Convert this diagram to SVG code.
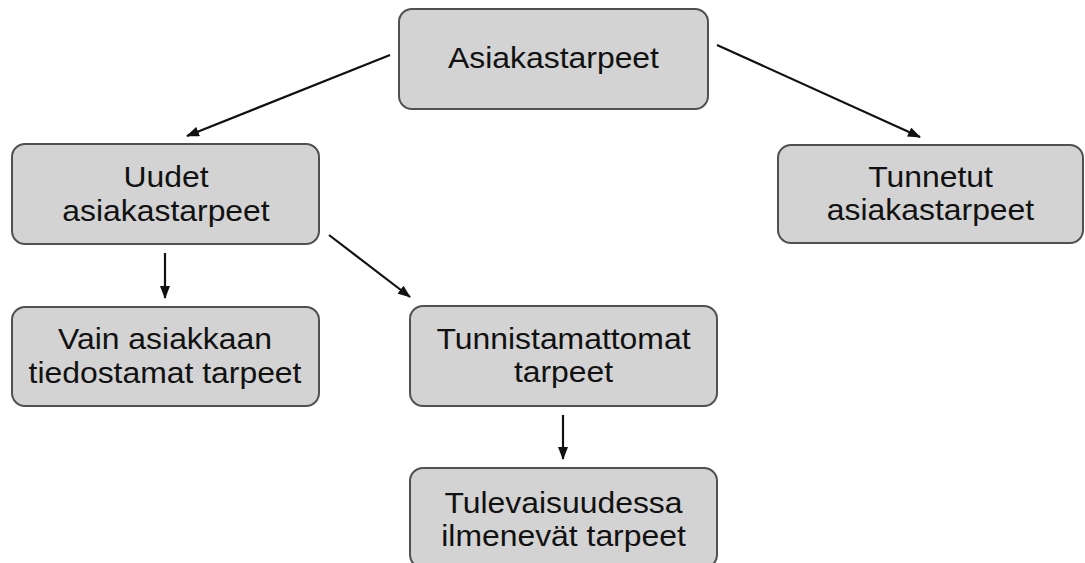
<svg xmlns="http://www.w3.org/2000/svg" width="1085" height="563" viewBox="0 0 1085 563">
<style>
.box{fill:#d3d3d3;stroke:#505050;stroke-width:2}
.t{font-family:"Liberation Sans",Arial,sans-serif;font-size:29px;fill:#111;text-anchor:middle}
.c{stroke:#111;stroke-width:2.2;fill:none;marker-end:url(#ah)}
</style>
<defs>
<marker id="ah" markerUnits="userSpaceOnUse" markerWidth="13" markerHeight="10" refX="12" refY="5" orient="auto">
<path d="M0,0 L13,5 L0,10 z" fill="#111"/>
</marker>
</defs>
<rect width="1085" height="563" fill="#fff"/>
<g id="connectors">
<line class="c" x1="390" y1="55" x2="187" y2="136"/>
<line class="c" x1="717" y1="45" x2="920" y2="137"/>
<line class="c" x1="165" y1="253" x2="165" y2="298"/>
<line class="c" x1="329" y1="235" x2="410" y2="297"/>
<line class="c" x1="563" y1="415" x2="563" y2="459"/>
</g>
<g id="n-asiakastarpeet">
<rect class="box" x="399" y="9" width="309" height="100" rx="13"/>
<text class="t" transform="translate(553.5,68) scale(1.1,1)">Asiakastarpeet</text>
</g>
<g id="n-uudet">
<rect class="box" x="12" y="144" width="307" height="100" rx="13"/>
<text class="t" transform="translate(166,187) scale(1.1,1)">Uudet</text>
<text class="t" transform="translate(166,221) scale(1.1,1)">asiakastarpeet</text>
</g>
<g id="n-tunnetut">
<rect class="box" x="778" y="145" width="305" height="98" rx="13"/>
<text class="t" transform="translate(930.5,187) scale(1.1,1)">Tunnetut</text>
<text class="t" transform="translate(930.5,220) scale(1.1,1)">asiakastarpeet</text>
</g>
<g id="n-vain">
<rect class="box" x="12" y="307" width="307" height="99" rx="13"/>
<text class="t" transform="translate(165,349) scale(1.1,1)">Vain asiakkaan</text>
<text class="t" transform="translate(165,383) scale(1.1,1)">tiedostamat tarpeet</text>
</g>
<g id="n-tunnistamattomat">
<rect class="box" x="410" y="306" width="307" height="100" rx="13"/>
<text class="t" transform="translate(563.5,349) scale(1.1,1)">Tunnistamattomat</text>
<text class="t" transform="translate(563.5,382) scale(1.1,1)">tarpeet</text>
</g>
<g id="n-tulevaisuudessa">
<rect class="box" x="410" y="468" width="307" height="100" rx="13"/>
<text class="t" transform="translate(563.5,513) scale(1.1,1)">Tulevaisuudessa</text>
<text class="t" transform="translate(563.5,546) scale(1.1,1)">ilmenevät tarpeet</text>
</g>
</svg>
